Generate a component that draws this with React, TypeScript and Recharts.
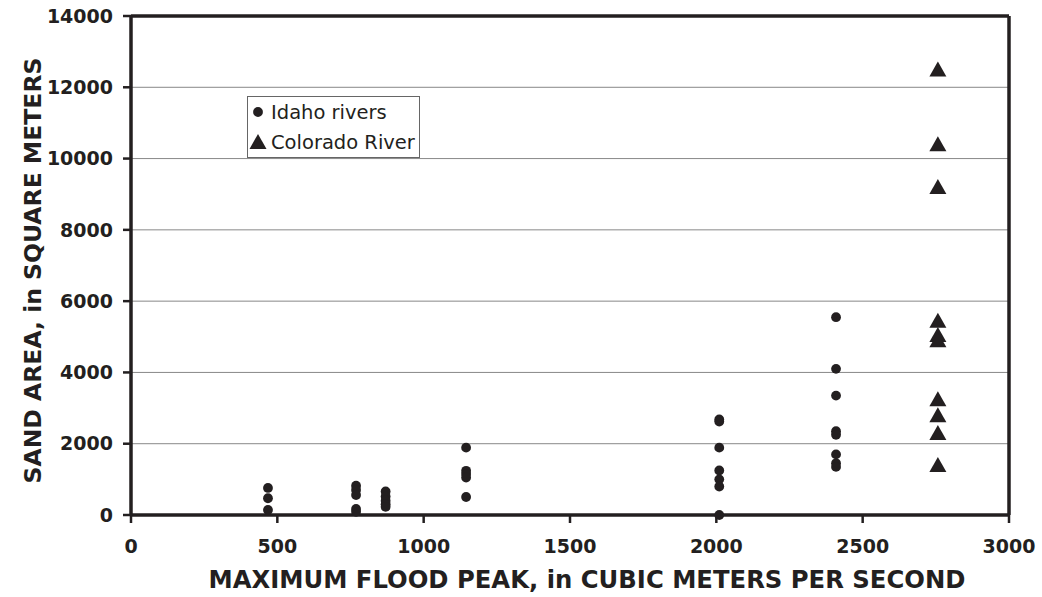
import React from 'react';
import {
  ScatterChart,
  Scatter,
  XAxis,
  YAxis,
  CartesianGrid,
  ReferenceLine,
} from 'recharts';

const INK = '#231f20';

// Idaho rivers: flood peak (m3/s) and sand area (m2)
const idahoFlow = [
  468, 468, 468,
  769, 769, 769, 769, 769,
  870, 870, 870, 870, 870,
  1145, 1145, 1145, 1145, 1145,
  2010, 2010, 2010, 2010, 2010, 2010, 2010,
  2409, 2409, 2409, 2409, 2409, 2409, 2409, 2409,
];
const idahoArea = [
  760, 470, 140,
  820, 700, 560, 170, 90,
  660, 520, 400, 300, 230,
  1890, 1240, 1150, 1050, 505,
  2680, 2620, 1890, 1250, 1000, 800, 0,
  5550, 4100, 3350, 2350, 2250, 1700, 1450, 1350,
];

// Colorado River
const coloradoFlow = [2757, 2757, 2757, 2757, 2757, 2757, 2757, 2757, 2757, 2757];
const coloradoArea = [12500, 10400, 9200, 5450, 5050, 4900, 3250, 2800, 2300, 1400];

const xTicks = [0, 500, 1000, 1500, 2000, 2500, 3000];
const yTicks = [0, 2000, 4000, 6000, 8000, 10000, 12000, 14000];

const idahoData = idahoFlow.map((x, i) => ({ x, y: idahoArea[i] }));
const coloradoData = coloradoFlow.map((x, i) => ({ x, y: coloradoArea[i] }));

const Dot = (p: any) => <circle cx={p.cx} cy={p.cy} r={4.9} fill={INK} />;

const Tri = (p: any) => (
  <path
    d={`M${p.cx},${p.cy - 8} L${p.cx + 8.5},${p.cy + 7} L${p.cx - 8.5},${p.cy + 7} Z`}
    fill={INK}
  />
);

const tickStyle = { fill: INK, fontSize: 19, fontWeight: 700, fontFamily: 'DejaVu Sans' };

// legend drawn as an overlay box, like the original
const LegendBox = () => (
  <svg
    width={173}
    height={62}
    style={{ position: 'absolute', left: 247, top: 96, display: 'block' }}
  >
    <rect x={0.5} y={0.5} width={172} height={61} fill="#fff" stroke="#666" strokeWidth={1} />
    <circle cx={11} cy={16} r={4.9} fill={INK} />
    <text x={24} y={23} fill={INK} fontSize={19.5} fontFamily="DejaVu Sans">
      Idaho rivers
    </text>
    <path d="M11,38 L19.5,53 L2.5,53 Z" fill={INK} />
    <text x={24} y={53} fill={INK} fontSize={19.5} fontFamily="DejaVu Sans">
      Colorado River
    </text>
  </svg>
);

export default function App() {
  return (
    <div style={{ position: 'absolute', left: 0, top: 0, width: 1042, height: 597, background: '#fff' }}>
      <ScatterChart width={1042} height={597} margin={{ top: 16, right: 33, bottom: 0, left: 0 }}>
        <CartesianGrid horizontal vertical={false} stroke="#888" strokeWidth={1} />
        <XAxis
          type="number"
          dataKey="x"
          domain={[0, 3000]}
          ticks={xTicks}
          height={82}
          tick={tickStyle}
          tickSize={8}
          tickMargin={17}
          axisLine={{ stroke: INK, strokeWidth: 3.5 }}
          tickLine={{ stroke: INK, strokeWidth: 2.5 }}
          label={{
            value: 'MAXIMUM FLOOD PEAK, in CUBIC METERS PER SECOND',
            position: 'insideBottom',
            offset: 9,
            dx: 17,
            fill: INK,
            fontSize: 24.3,
            fontWeight: 700,
            fontFamily: 'DejaVu Sans',
          }}
        />
        <YAxis
          type="number"
          dataKey="y"
          domain={[0, 14000]}
          ticks={yTicks}
          width={131}
          tick={tickStyle}
          tickSize={8}
          tickMargin={10}
          axisLine={{ stroke: INK, strokeWidth: 3.5 }}
          tickLine={{ stroke: INK, strokeWidth: 2.5 }}
          label={{
            value: 'SAND AREA, in SQUARE METERS',
            angle: -90,
            position: 'center',
            dx: -33,
            dy: 5,
            fill: INK,
            fontSize: 23.5,
            fontWeight: 700,
            fontFamily: 'DejaVu Sans',
          }}
        />
        <ReferenceLine y={14000} stroke={INK} strokeWidth={3.5} />
        <ReferenceLine x={3000} stroke={INK} strokeWidth={3.5} />
        <Scatter name="Idaho rivers" data={idahoData} shape={Dot} isAnimationActive={false} />
        <Scatter name="Colorado River" data={coloradoData} shape={Tri} isAnimationActive={false} />
      </ScatterChart>
      <LegendBox />
    </div>
  );
}
